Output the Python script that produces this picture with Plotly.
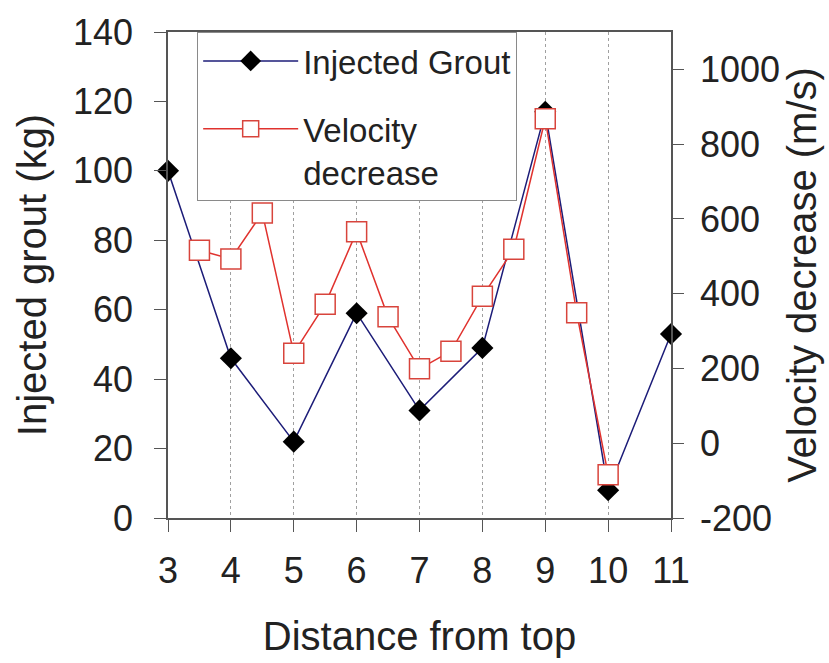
import plotly.graph_objects as go

# Injected grout per stage (kg), plotted against the left axis
grout_x = [3, 4, 5, 6, 7, 8, 9, 10, 11]
grout_kg = [100, 46, 22, 59, 31, 49, 117, 8, 53]

# Velocity decrease (m/s), measured at half-stage spacing, right axis
vel_x = [3.5, 4, 4.5, 5, 5.5, 6, 6.5, 7, 7.5, 8, 8.5, 9, 9.5, 10]
vel_dec = [516, 493, 616, 241, 372, 566, 338, 199, 246, 393, 519, 868, 349, -84]

x_ticks = [3, 4, 5, 6, 7, 8, 9, 10, 11]
left_ticks = [0, 20, 40, 60, 80, 100, 120, 140]
right_ticks = [-200, 0, 200, 400, 600, 800, 1000]

FONT = "Liberation Sans, Arial, sans-serif"
TXT = "#222222"
AXIS = "#555555"
TICK_SIZE = 36
TITLE_SIZE = 40

fig = go.Figure()

fig.add_trace(go.Scatter(
    x=grout_x, y=grout_kg, name="Injected Grout", legendgroup="g",
    mode="lines+markers", cliponaxis=False,
    line=dict(color="#1c1c78", width=1.5),
    marker=dict(symbol="diamond", size=17, color="black",
                line=dict(color="black", width=0)),
    yaxis="y",
))

fig.add_trace(go.Scatter(
    x=vel_x, y=vel_dec, name="Velocity<br>decrease", legendgroup="v",
    mode="lines+markers", cliponaxis=False,
    line=dict(color="#e0322e", width=1.5),
    marker=dict(symbol="square", size=20, color="white",
                line=dict(color="#d8443c", width=1.5)),
    yaxis="y2",
))

fig.update_layout(
    width=829, height=663,
    margin=dict(l=168, r=158, t=24, b=141),
    paper_bgcolor="white", plot_bgcolor="white",
    font=dict(family=FONT, color=TXT, size=32),
    showlegend=True,
    legend=dict(
        x=0.058, y=1.0, xanchor="left", yanchor="top",
        bgcolor="white", bordercolor="#8a8a8a", borderwidth=1,
        font=dict(size=33, family=FONT, color=TXT),
        itemwidth=95, tracegroupgap=22, valign="top",
    ),
    xaxis=dict(
        range=[3, 11], tickvals=x_ticks,
        showgrid=True, gridcolor="#a0a0a0", griddash="dot", gridwidth=1,
        showline=True, linecolor=AXIS, linewidth=1.5, mirror=True,
        ticks="outside", ticklen=12, tickcolor=AXIS,
        tickfont=dict(size=TICK_SIZE), ticklabelstandoff=8,
        title=dict(text="Distance from top", font=dict(size=TITLE_SIZE), standoff=32),
        zeroline=False,
    ),
    yaxis=dict(
        range=[0, 140], tickvals=left_ticks,
        showgrid=False, zeroline=False,
        showline=True, linecolor=AXIS, linewidth=1.5,
        ticks="outside", ticklen=12, tickcolor=AXIS,
        tickfont=dict(size=TICK_SIZE), ticklabelstandoff=14,
        title=dict(text="Injected grout (kg)", font=dict(size=TITLE_SIZE), standoff=14),
    ),
    yaxis2=dict(
        range=[-200, 1100], tickvals=right_ticks,
        ticktext=[str(v) for v in right_ticks],
        overlaying="y", side="right", anchor="x",
        showgrid=False, zeroline=False,
        showline=True, linecolor=AXIS, linewidth=1.5,
        ticks="outside", ticklen=11, tickcolor=AXIS,
        tickfont=dict(size=TICK_SIZE), ticklabelstandoff=9,
        title=dict(text="Velocity decrease (m/s)", font=dict(size=TITLE_SIZE), standoff=6),
    ),
    # inner half of the crossing tick marks on the right axis
    yaxis3=dict(
        range=[-200, 1100], tickvals=right_ticks,
        overlaying="y", side="right", anchor="x",
        showgrid=False, zeroline=False, showline=False,
        ticks="inside", ticklen=14, tickcolor=AXIS,
        showticklabels=False,
    ),
)

fig.write_html("out.html")
